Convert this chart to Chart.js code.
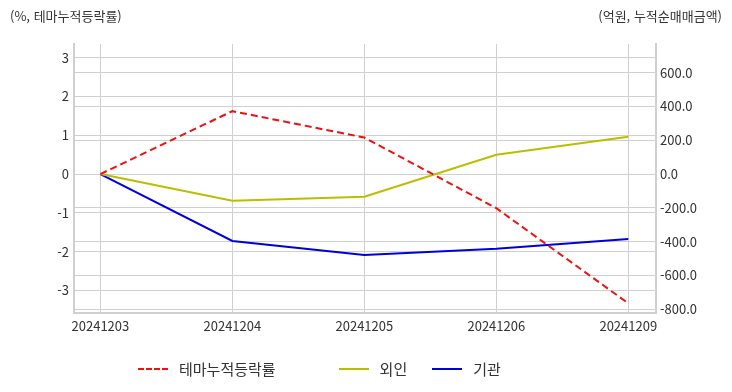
<!DOCTYPE html>
<html lang="ko">
<head>
    <meta charset="UTF-8">
    <title>테마누적등락률</title>
    <style>
        body {
            margin: 0;
            padding: 0;
            background: #fff;
            font-family: "Noto Sans CJK KR", "Noto Sans", sans-serif;
            color: #333;
        }
        .wrap {
            position: relative;
            width: 732px;
            height: 392px;
        }
        .wrap canvas {
            position: absolute;
            left: 0;
            top: 0;
        }
        .axis-title {
            position: absolute;
            top: 6px;
            font-size: 13px;
            color: #333;
        }
        .axis-title.left { left: 10px; }
        .axis-title.right { right: 10px; }
        .legend {
            position: absolute;
            top: 358px;
            left: 138px;
            display: flex;
            align-items: center;
            font-size: 15px;
            color: #333;
        }
        .legend .item {
            display: flex;
            align-items: center;
        }
        .legend .item:nth-child(1) { margin-right: 63px; }
        .legend .item:nth-child(2) { margin-right: 25px; }
        .legend .swatch {
            width: 30px;
            height: 0;
            border-top: 2px solid;
            margin-right: 11px;
        }
    </style>
</head>
<body>
    <div class="wrap">
        <canvas id="chart" width="732" height="392"></canvas>
        <div class="axis-title left">(%, 테마누적등락률)</div>
        <div class="axis-title right">(억원, 누적순매매금액)</div>
        <div class="legend" id="legend"></div>
    </div>

    <script src="https://cdn.jsdelivr.net/npm/chart.js@4"></script>
    <script>
        const dates = ['20241203', '20241204', '20241205', '20241206', '20241209'];
        const seriesNames = ['테마누적등락률', '외인', '기관'];
        const themeRate = [0, 1.62, 0.94, -0.88, -3.33];      // %
        const foreignNet = [0, -158, -134, 114, 221];           // 억원
        const instNet = [0, -396, -479, -442, -385];            // 억원
        const leftTicks = [-3, -2, -1, 0, 1, 2, 3];
        const rightTicks = [-800, -600, -400, -200, 0, 200, 400, 600];
        const colors = ['#ee1111', '#bdbd00', '#0000dd'];

        const toPoints = arr => arr.map((v, i) => ({ x: i, y: v }));
        const tickFont = { family: '"Noto Sans CJK KR", sans-serif', size: 13 };

        const ctx = document.getElementById('chart').getContext('2d');
        new Chart(ctx, {
            type: 'line',
            data: {
                datasets: [
                    {
                        label: seriesNames[0],
                        data: toPoints(themeRate),
                        borderColor: colors[0],
                        borderDash: [7, 4],
                        borderWidth: 2,
                        yAxisID: 'y'
                    },
                    {
                        label: seriesNames[1],
                        data: toPoints(foreignNet),
                        borderColor: colors[1],
                        borderWidth: 2,
                        yAxisID: 'y1'
                    },
                    {
                        label: seriesNames[2],
                        data: toPoints(instNet),
                        borderColor: colors[2],
                        borderWidth: 2,
                        yAxisID: 'y1'
                    }
                ]
            },
            options: {
                responsive: false,
                animation: false,
                elements: {
                    point: { radius: 0 },
                    line: { tension: 0 }
                },
                layout: {
                    padding: { top: 44, left: 0, right: 0, bottom: 0 }
                },
                plugins: {
                    legend: { display: false },
                    tooltip: { enabled: false }
                },
                scales: {
                    x: {
                        type: 'linear',
                        min: -0.2,
                        max: 4.21,
                        afterFit: s => { s.height = 79; },
                        afterBuildTicks: s => { s.ticks = dates.map((d, i) => ({ value: i })); },
                        grid: { color: '#d0d0d0', drawTicks: false },
                        border: { color: '#d0d0d0', width: 2 },
                        ticks: {
                            autoSkip: false,
                            maxRotation: 0,
                            padding: 5,
                            color: '#333',
                            font: tickFont,
                            callback: v => dates[v] ?? ''
                        }
                    },
                    y: {
                        position: 'left',
                        min: -3.58,
                        max: 3.35,
                        afterFit: s => { s.width = 74; },
                        afterBuildTicks: s => { s.ticks = leftTicks.map(v => ({ value: v })); },
                        grid: { color: '#d0d0d0', drawTicks: false },
                        border: { color: '#d0d0d0', width: 2 },
                        ticks: {
                            padding: 5,
                            color: '#333',
                            font: tickFont
                        }
                    },
                    y1: {
                        position: 'right',
                        min: -822,
                        max: 769,
                        afterFit: s => { s.width = 76; },
                        afterBuildTicks: s => { s.ticks = rightTicks.map(v => ({ value: v })); },
                        grid: { color: '#d0d0d0', drawTicks: false },
                        border: { color: '#d0d0d0', width: 2 },
                        ticks: {
                            padding: 4,
                            color: '#333',
                            font: tickFont,
                            callback: v => v.toFixed(1)
                        }
                    }
                }
            }
        });

        // legend
        const legend = document.getElementById('legend');
        seriesNames.forEach((name, i) => {
            const item = document.createElement('div');
            item.className = 'item';
            const sw = document.createElement('span');
            sw.className = 'swatch';
            sw.style.borderTopColor = colors[i];
            if (i === 0) sw.style.borderTopStyle = 'dashed';
            const label = document.createElement('span');
            label.textContent = name;
            item.appendChild(sw);
            item.appendChild(label);
            legend.appendChild(item);
        });
    </script>
</body>
</html>
